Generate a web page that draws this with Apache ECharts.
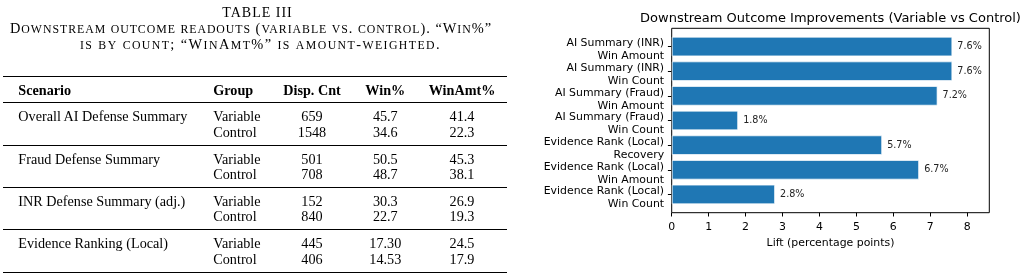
<!DOCTYPE html>
<html>
<head>
<meta charset="utf-8">
<script src="https://cdn.jsdelivr.net/npm/echarts@6/dist/echarts.min.js"></script>
<style>
  html, body { margin: 0; padding: 0; background: #fff; }
  #wrap { position: relative; width: 1029px; height: 280px; overflow: hidden; }
  #chart { position: absolute; left: 0; top: 0; width: 1029px; height: 280px; }
  #table { position: absolute; left: 0; top: 0; width: 520px; height: 280px;
           font-family: "Liberation Serif", "Times New Roman", serif; color: #000; }
  .t { position: absolute; white-space: nowrap; line-height: 1; }
  .c { transform: translateX(-50%); }
  .rule { position: absolute; left: 3px; width: 504px; background: #000; }
</style>
</head>
<body>
<div id="wrap">
  <div id="chart"></div>
  <div id="table"></div>
</div>
<script>
// ---- table data ----
const scenarios = ['Overall AI Defense Summary', 'Fraud Defense Summary', 'INR Defense Summary (adj.)', 'Evidence Ranking (Local)']
const groups = ['Variable', 'Control']
const dispCnt = [['659', '1548'], ['501', '708'], ['152', '840'], ['445', '406']]
const winPct = [['45.7', '34.6'], ['50.5', '48.7'], ['30.3', '22.7'], ['17.30', '14.53']]
const winAmtPct = [['41.4', '22.3'], ['45.3', '38.1'], ['26.9', '19.3'], ['24.5', '17.9']]
const headers = ['Scenario', 'Group', 'Disp. Cnt', 'Win%', 'WinAmt%']
const captionLines = [
  'Downstream outcome readouts (variable vs. control). \u201cWin%\u201d',
  'is by count; \u201cWinAmt%\u201d is amount-weighted.',
]

// ---- chart data ----
const categories = [
  'AI Summary (INR)\nWin Amount',
  'AI Summary (INR)\nWin Count',
  'AI Summary (Fraud)\nWin Amount',
  'AI Summary (Fraud)\nWin Count',
  'Evidence Rank (Local)\nRecovery',
  'Evidence Rank (Local)\nWin Amount',
  'Evidence Rank (Local)\nWin Count',
]
const lift = [7.6, 7.6, 7.2, 1.8, 5.7, 6.7, 2.8]
const xTicks = [0, 1, 2, 3, 4, 5, 6, 7, 8]
const xMax = 8.6

// build the table as positioned text
const tbl = document.getElementById('table')
const FS = 14.2

// place text by its baseline (Liberation Serif, line-height 1)
function addText(txt, x, base, opts = {}) {
  const d = document.createElement('div')
  d.className = 't' + (opts.center ? ' c' : '')
  const fs = opts.size || FS
  if (opts.html) d.innerHTML = txt
  else d.textContent = txt
  d.style.fontSize = fs + 'px'
  d.style.left = x + 'px'
  d.style.top = (base - 0.8375 * fs) + 'px'
  if (opts.bold) d.style.fontWeight = 'bold'
  if (opts.ls) d.style.letterSpacing = opts.ls + 'px'
  tbl.appendChild(d)
  // stretch with letter spacing to a target width (caption lines)
  if (opts.fit) {
    const w = d.getBoundingClientRect().width
    const n = d.textContent.length
    d.style.letterSpacing = ((opts.fit - w) / n) + 'px'
  }
  return d
}

// LaTeX-like small caps: lowercase runs become smaller capitals
function smallCaps(s, ratio) {
  return s.replace(/[a-z]+/g, (m) => '<span style="font-size:' + ratio + 'em">' + m.toUpperCase() + '</span>')
}

function addRule(y, h) {
  const r = document.createElement('div')
  r.className = 'rule'
  r.style.top = (y - h / 2) + 'px'
  r.style.height = h + 'px'
  tbl.appendChild(r)
}

addText('TABLE III', 257.5, 17.3, { center: true, size: 14, ls: 1 })
addText(smallCaps(captionLines[0], 0.82), 251, 32.7, { center: true, size: 14.4, html: true, fit: 482 })
addText(smallCaps(captionLines[1], 0.82), 260.5, 49.3, { center: true, size: 14.4, html: true, fit: 361 })

const colX = [18.3, 213.3, 312, 385.3, 462]
const headBase = 94.5
addRule(76.7, 1.4)
addText(headers[0], colX[0], headBase, { bold: true })
addText(headers[1], colX[1], headBase, { bold: true })
addText(headers[2], colX[2], headBase, { bold: true, center: true })
addText(headers[3], colX[3], headBase, { bold: true, center: true })
addText(headers[4], colX[4], headBase, { bold: true, center: true })
addRule(102.7, 0.9)

const blockBase = [121.3, 163.6, 205.6, 247.9]
scenarios.forEach((s, i) => {
  const b0 = blockBase[i]
  addText(s, colX[0], b0)
  for (let j = 0; j < 2; j++) {
    const b = b0 + j * 15.6
    addText(groups[j], colX[1], b)
    addText(dispCnt[i][j], colX[2], b, { center: true })
    addText(winPct[i][j], colX[3], b, { center: true })
    addText(winAmtPct[i][j], colX[4], b, { center: true })
  }
  if (i < scenarios.length - 1) addRule(b0 + 23.8, 0.8)
})
addRule(272.3, 1.4)

// ---- chart ----
const chart = echarts.init(document.getElementById('chart'), null, { renderer: 'canvas' })
const font = 'DejaVu Sans'
const plot = { left: 671.7, top: 28.3, width: 317.6, height: 184.4 }
// matplotlib barh: bars of height 0.8 plus 5% margins each side
const span = (categories.length - 1 + 0.8) * 1.1
const pad = plot.height * (1 - categories.length / span) / 2
const band = { left: plot.left, top: plot.top + pad, width: plot.width, height: plot.height - 2 * pad }
// matplotlib sets its two-line tick labels slightly below the tick
const labelShift = 3.5

chart.setOption({
  animation: false,
  title: {
    text: 'Downstream Outcome Improvements (Variable vs Control)',
    left: plot.left + plot.width / 2,
    top: 12,
    padding: 0,
    textAlign: 'center',
    textStyle: { fontFamily: font, fontSize: 13, fontWeight: 'normal', color: '#000' },
  },
  grid: [
    { left: plot.left, top: plot.top, width: plot.width, height: plot.height,
      show: true, borderColor: '#000', borderWidth: 1, backgroundColor: 'transparent', outerBoundsMode: 'none' },
    { ...band, outerBoundsMode: 'none' },
    { ...band, top: band.top + labelShift, outerBoundsMode: 'none' },
  ],
  xAxis: [
    {
      gridIndex: 0, type: 'value', min: 0, max: xMax,
      splitLine: { show: false },
      axisLine: { show: false },
      axisTick: { show: true, length: 3.8, customValues: xTicks, lineStyle: { color: '#000' } },
      axisLabel: { customValues: xTicks, fontFamily: font, fontSize: 10.9, color: '#000', margin: 9 },
      name: 'Lift (percentage points)',
      nameLocation: 'middle',
      nameGap: 24,
      nameTextStyle: { fontFamily: font, fontSize: 10.9, color: '#000' },
    },
    { gridIndex: 1, type: 'value', min: 0, max: xMax, show: false },
    { gridIndex: 2, type: 'value', min: 0, max: xMax, show: false },
  ],
  yAxis: [
    { gridIndex: 0, type: 'value', min: 0, max: 1, show: false },
    {
      // ticks at the bar centres
      gridIndex: 1, type: 'category', data: categories, inverse: true,
      axisLine: { show: false },
      axisTick: { show: true, alignWithLabel: true, interval: 0, length: 3.8, lineStyle: { color: '#000' } },
      axisLabel: { show: false },
      splitLine: { show: false },
    },
    {
      // the labels, on a copy of the band nudged down a little
      gridIndex: 2, type: 'category', data: categories, inverse: true,
      axisLine: { show: false },
      axisTick: { show: false },
      axisLabel: { interval: 0, fontFamily: font, fontSize: 10.9, lineHeight: 12.8, color: '#000',
                   margin: 7.6, align: 'right' },
      splitLine: { show: false },
    },
  ],
  series: [
    {
      type: 'bar',
      xAxisIndex: 1,
      yAxisIndex: 1,
      data: lift,
      barWidth: '80%',
      itemStyle: { color: '#1f77b4', borderColor: 'rgba(255,255,255,0.7)', borderWidth: 1 },
      label: {
        show: true,
        position: 'right',
        distance: 5,
        formatter: (p) => p.value.toFixed(1) + '%',
        fontFamily: font,
        fontSize: 9.6,
        color: '#222',
      },
    },
  ],
})
</script>
</body>
</html>
